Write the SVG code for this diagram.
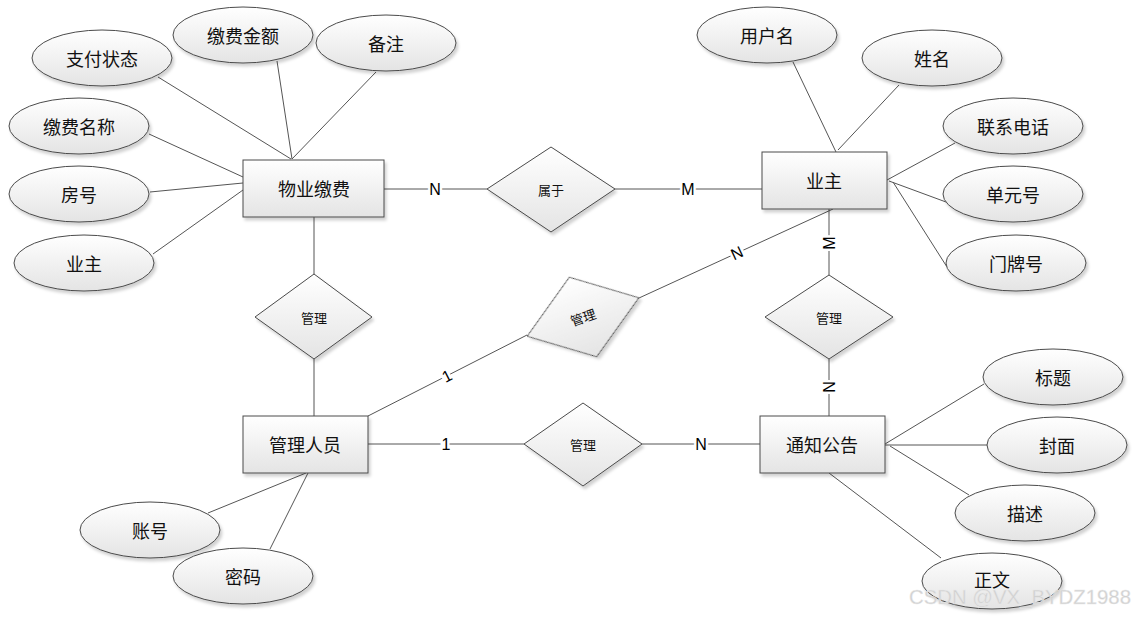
<svg xmlns="http://www.w3.org/2000/svg" width="1135" height="617" viewBox="0 0 1135 617">
<defs>
<linearGradient id="g" x1="0" y1="0" x2="0" y2="1">
<stop offset="0" stop-color="#ffffff"/>
<stop offset="1" stop-color="#e4e4e4"/>
</linearGradient>
<filter id="sh" x="-10%" y="-10%" width="130%" height="140%">
<feDropShadow dx="2" dy="3" stdDeviation="1.5" flood-color="#000" flood-opacity="0.18"/>
</filter>
</defs>
<style>
.s{fill:url(#g);stroke:#4a4a4a;stroke-width:1;filter:url(#sh)}
.t{font-family:"Noto Sans CJK SC","Liberation Sans",sans-serif;font-size:18px;fill:#111;text-anchor:middle;dominant-baseline:central}
.d{font-family:"Noto Sans CJK SC","Liberation Sans",sans-serif;font-size:13px;fill:#111;text-anchor:middle;dominant-baseline:central}
.c line{stroke:#555;stroke-width:1}
.l{font-family:"Liberation Sans",Arial,sans-serif;font-size:16px;fill:#000;text-anchor:middle;dominant-baseline:central;paint-order:stroke;stroke:#fff;stroke-width:5px}
.w{font-family:"Liberation Sans",Arial,sans-serif;font-size:20px;fill:#d0d0d0;stroke:#eaeaea;stroke-width:0.4}
</style>
<rect width="1135" height="617" fill="#fff"/>
<g class="c" id="connectors">
<line x1="158" y1="77" x2="291" y2="159"/>
<line x1="277" y1="61" x2="292" y2="159"/>
<line x1="376" y1="72" x2="292" y2="159"/>
<line x1="149" y1="134" x2="243" y2="177"/>
<line x1="150" y1="192" x2="243" y2="183"/>
<line x1="153" y1="254" x2="243" y2="190"/>
<line x1="384" y1="189" x2="487" y2="189"/>
<line x1="615" y1="189" x2="762" y2="189"/>
<line x1="793" y1="62" x2="836" y2="152"/>
<line x1="899" y1="85" x2="838" y2="150"/>
<line x1="955" y1="143" x2="887" y2="180"/>
<line x1="889" y1="181" x2="946" y2="202"/>
<line x1="893" y1="182" x2="947" y2="267"/>
<line x1="829" y1="209" x2="829" y2="275"/>
<line x1="829" y1="359" x2="829" y2="416"/>
<line x1="314" y1="217" x2="314" y2="274"/>
<line x1="314" y1="359" x2="314" y2="416"/>
<line x1="368" y1="444" x2="524" y2="444"/>
<line x1="642" y1="444" x2="760" y2="444"/>
<line x1="368" y1="416" x2="527" y2="335"/>
<line x1="639" y1="298" x2="833" y2="209"/>
<line x1="885" y1="444" x2="984" y2="384"/>
<line x1="885" y1="445" x2="987" y2="445"/>
<line x1="890" y1="446" x2="969" y2="495"/>
<line x1="829" y1="473" x2="941" y2="558"/>
<line x1="306" y1="473" x2="208" y2="513"/>
<line x1="308" y1="473" x2="270" y2="549"/>
</g>
<g id="labels">
<text class="l" x="435" y="189">N</text>
<text class="l" x="688" y="189">M</text>
<text class="l" x="829" y="243" transform="rotate(-90 829 243)">M</text>
<text class="l" x="829" y="387" transform="rotate(-90 829 387)">N</text>
<text class="l" x="446" y="444">1</text>
<text class="l" x="701" y="444">N</text>
<text class="l" x="447" y="376" transform="rotate(-27 447 376)">1</text>
<text class="l" x="737" y="253" transform="rotate(-25 737 253)">N</text>
</g>
<g id="wuye"><rect class="s" x="243" y="160" width="141" height="57"/><text class="t" x="314" y="188">物业缴费</text></g>
<g id="yezhu"><rect class="s" x="762" y="152" width="125" height="57"/><text class="t" x="824" y="180">业主</text></g>
<g id="guanli"><rect class="s" x="243" y="416" width="125" height="57"/><text class="t" x="305" y="444">管理人员</text></g>
<g id="tongzhi"><rect class="s" x="760" y="416" width="125" height="57"/><text class="t" x="822" y="444">通知公告</text></g>
<g id="shuyu"><polygon class="s" points="551,147 615,189 551,232 487,189"/><text class="d" x="551" y="189">属于</text></g>
<g id="rel-left"><polygon class="s" points="314,274 372,317 314,359 255,317"/><text class="d" x="314" y="317">管理</text></g>
<g id="rel-right"><polygon class="s" points="829,275 893,317 829,359 765,317"/><text class="d" x="829" y="317">管理</text></g>
<g id="rel-bottom"><polygon class="s" points="583,403 642,444 583,486 524,444"/><text class="d" x="583" y="444">管理</text></g>
<g id="rel-mid" transform="rotate(-19 583 317)"><polygon class="s" points="583,275 642,317 583,359 524,317"/><text class="d" x="583" y="317">管理</text></g>
<g id="a1"><ellipse class="s" cx="102" cy="58" rx="70" ry="28"/><text class="t" x="102" y="58">支付状态</text></g>
<g id="a2"><ellipse class="s" cx="243" cy="35" rx="70" ry="28"/><text class="t" x="243" y="35">缴费金额</text></g>
<g id="a3"><ellipse class="s" cx="386" cy="43" rx="70" ry="28"/><text class="t" x="386" y="43">备注</text></g>
<g id="a4"><ellipse class="s" cx="79" cy="126" rx="70" ry="28"/><text class="t" x="79" y="126">缴费名称</text></g>
<g id="a5"><ellipse class="s" cx="79" cy="194" rx="70" ry="28"/><text class="t" x="79" y="194">房号</text></g>
<g id="a6"><ellipse class="s" cx="84" cy="263" rx="70" ry="28"/><text class="t" x="84" y="263">业主</text></g>
<g id="b1"><ellipse class="s" cx="767" cy="35" rx="70" ry="28"/><text class="t" x="767" y="35">用户名</text></g>
<g id="b2"><ellipse class="s" cx="932" cy="58" rx="70" ry="28"/><text class="t" x="932" y="58">姓名</text></g>
<g id="b3"><ellipse class="s" cx="1013" cy="126" rx="70" ry="28"/><text class="t" x="1013" y="126">联系电话</text></g>
<g id="b4"><ellipse class="s" cx="1013" cy="194" rx="70" ry="28"/><text class="t" x="1013" y="194">单元号</text></g>
<g id="b5"><ellipse class="s" cx="1016" cy="263" rx="70" ry="28"/><text class="t" x="1016" y="263">门牌号</text></g>
<g id="c1"><ellipse class="s" cx="1053" cy="377" rx="70" ry="28"/><text class="t" x="1053" y="377">标题</text></g>
<g id="c2"><ellipse class="s" cx="1057" cy="445" rx="70" ry="28"/><text class="t" x="1057" y="445">封面</text></g>
<g id="c3"><ellipse class="s" cx="1025" cy="513" rx="70" ry="28"/><text class="t" x="1025" y="513">描述</text></g>
<g id="c4"><ellipse class="s" cx="992" cy="581" rx="70" ry="28"/><text class="t" x="992" y="579">正文</text></g>
<g id="d1"><ellipse class="s" cx="150" cy="530" rx="70" ry="28"/><text class="t" x="150" y="530">账号</text></g>
<g id="d2"><ellipse class="s" cx="243" cy="576" rx="70" ry="28"/><text class="t" x="243" y="576">密码</text></g>
<text class="w" x="909" y="604" textLength="222" lengthAdjust="spacingAndGlyphs">CSDN @VX_BYDZ1988</text>
</svg>
